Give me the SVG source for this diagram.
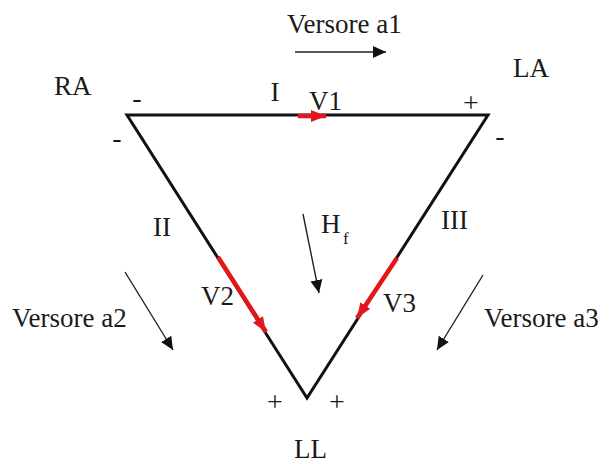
<svg xmlns="http://www.w3.org/2000/svg" width="609" height="464" viewBox="0 0 609 464">
<style>
text{font-family:"Liberation Serif","Times New Roman",serif;fill:#1a1a1a;font-size:27px}
.sg{font-size:28px}
.sub{font-size:17px}
.tri{fill:none;stroke:#111;stroke-width:3;stroke-linejoin:miter}
.ar{stroke:#222;stroke-width:1.4;fill:none}
.red{stroke:#e3161b;stroke-width:4.5;fill:none}
</style>
<defs>
<marker id="bh" markerUnits="userSpaceOnUse" markerWidth="14" markerHeight="14" viewBox="0 0 14 14" refX="13" refY="7" orient="auto">
<path d="M0,1 L13,7 L0,13 Z" fill="#111"/>
</marker>
<marker id="rh" markerUnits="userSpaceOnUse" markerWidth="16" markerHeight="14" viewBox="0 0 16 14" refX="15" refY="7" orient="auto">
<path d="M0,1 L15,7 L0,13 Z" fill="#e3161b"/>
</marker>
</defs>
<rect width="609" height="464" fill="#fff"/>
<g id="triangle">
<path class="tri" d="M127,115 L488,115 L307,398 Z"/>
</g>
<g id="connectors">
<line class="ar" x1="295" y1="52" x2="386" y2="52" marker-end="url(#bh)"/>
<line class="ar" x1="125" y1="272" x2="173" y2="350" marker-end="url(#bh)"/>
<line class="ar" x1="483" y1="275" x2="437" y2="350" marker-end="url(#bh)"/>
<line class="ar" x1="303" y1="214" x2="319" y2="293" marker-end="url(#bh)"/>
<line class="red" x1="298" y1="116" x2="326" y2="116" marker-end="url(#rh)"/>
<line class="red" x1="218" y1="257" x2="266" y2="332" marker-end="url(#rh)"/>
<line class="red" x1="397" y1="258" x2="357" y2="318" marker-end="url(#rh)"/>
</g>
<g id="RA"><text x="54" y="95">RA</text></g>
<g id="LA"><text x="513" y="77">LA</text></g>
<g id="LL"><text x="294" y="458">LL</text></g>
<g id="signs">
<text class="sg" x="137" y="107" text-anchor="middle">-</text>
<text class="sg" x="117" y="147" text-anchor="middle">-</text>
<text class="sg" x="500" y="145" text-anchor="middle">-</text>
<text class="sg" x="471" y="112" text-anchor="middle">+</text>
<text class="sg" x="275" y="411" text-anchor="middle">+</text>
<text class="sg" x="337" y="411" text-anchor="middle">+</text>
</g>
<g id="labels">
<text x="287" y="33">Versore a1</text>
<text x="12" y="327">Versore a2</text>
<text x="484" y="327">Versore a3</text>
<text x="275" y="101" text-anchor="middle">I</text>
<text x="153" y="236">II</text>
<text x="441" y="229">III</text>
<text x="309" y="110">V1</text>
<text x="201" y="305">V2</text>
<text x="383" y="312">V3</text>
<text x="321" y="233">H</text>
<text class="sub" x="343" y="244">f</text>
</g>
</svg>
